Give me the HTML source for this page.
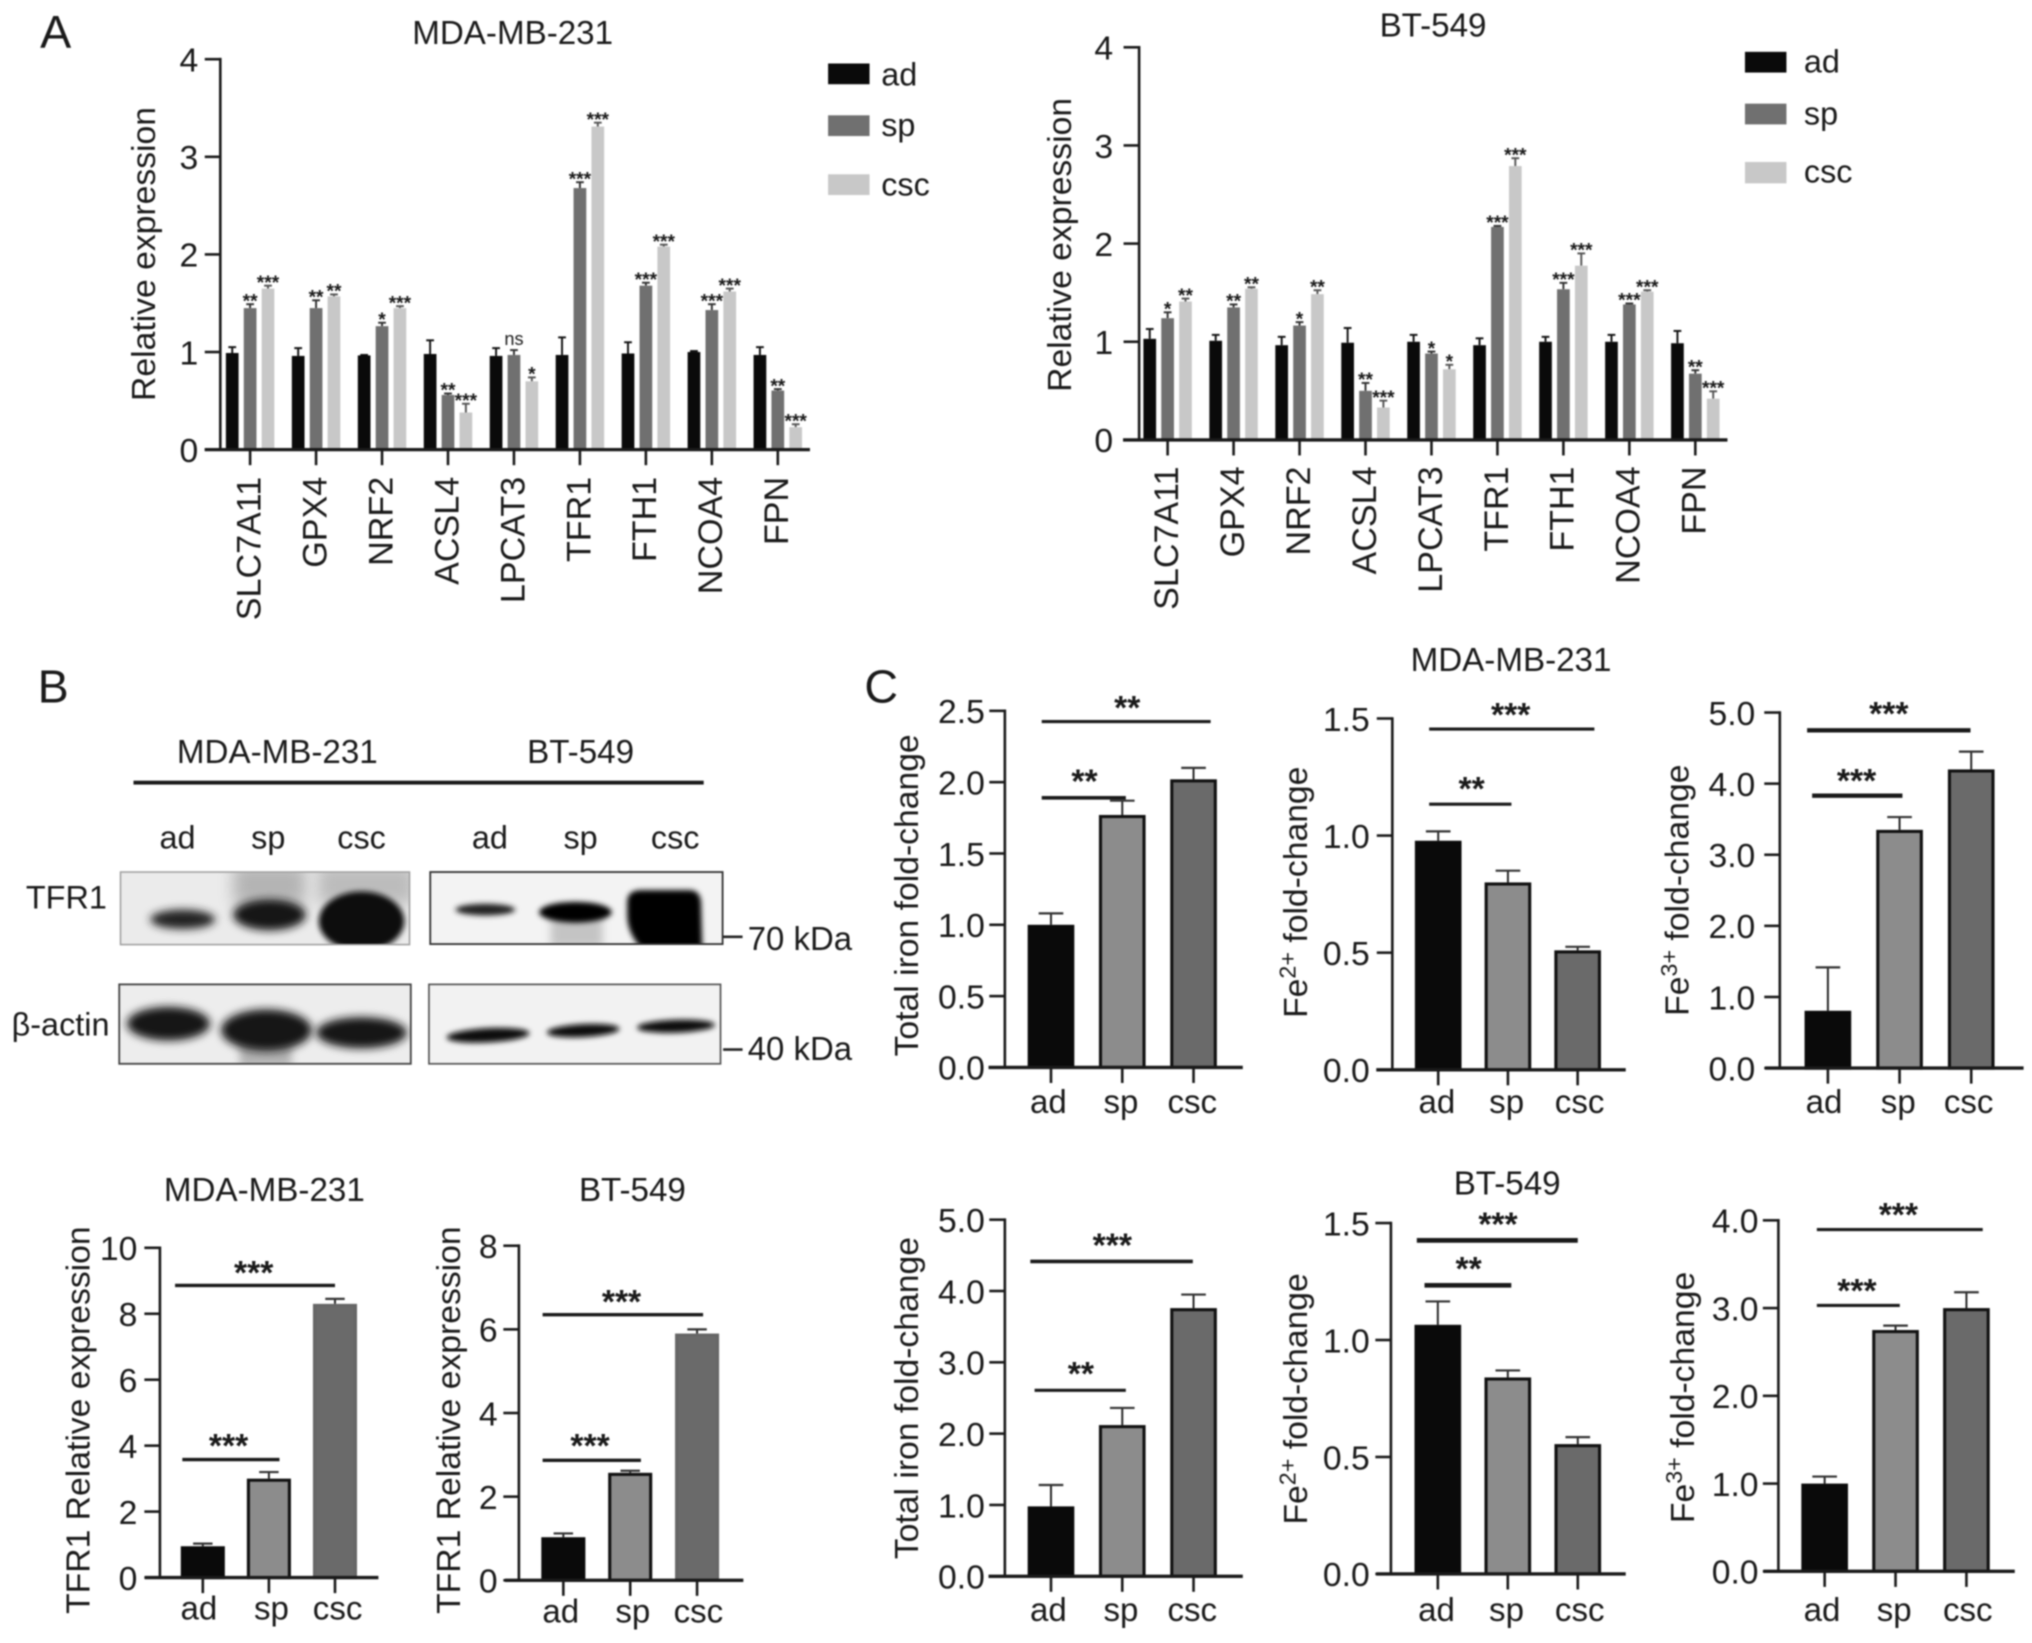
<!DOCTYPE html>
<html lang="en">
<head>
<meta charset="utf-8">
<title>Iron metabolism figure</title>
<style>
html,body{margin:0;padding:0;background:#fff;width:2032px;height:1643px;overflow:hidden}
svg{display:block;filter:blur(0.8px)}
text{font-family:"Liberation Sans",sans-serif;fill:#1a1a1a}
</style>
</head>
<body>
<svg id="figure" xmlns="http://www.w3.org/2000/svg" width="2032" height="1643" viewBox="0 0 1568 1268" preserveAspectRatio="none">
<defs>
<filter id="b1" x="-30%" y="-60%" width="160%" height="220%"><feGaussianBlur stdDeviation="2"/></filter>
<filter id="b2" x="-30%" y="-60%" width="160%" height="220%"><feGaussianBlur stdDeviation="3.2"/></filter>
<filter id="b3" x="-40%" y="-80%" width="180%" height="260%"><feGaussianBlur stdDeviation="6"/></filter>
<clipPath id="c1"><rect x="93" y="673" width="223" height="56"/></clipPath>
<clipPath id="c2"><rect x="332" y="673" width="225.6" height="55.6"/></clipPath>
<clipPath id="c3"><rect x="92" y="759.7" width="225" height="61.3"/></clipPath>
<clipPath id="c4"><rect x="331" y="759.7" width="225" height="61.3"/></clipPath>
</defs>
<rect x="0" y="0" width="1568" height="1268" fill="#fff"/>

<text x="31" y="37" font-size="36">A</text>
<text x="29" y="542" font-size="36">B</text>
<text x="667" y="542" font-size="36">C</text>

<text x="395.6" y="34" font-size="25.6" text-anchor="middle">MDA-MB-231</text>
<text x="1105.8" y="28" font-size="25.6" text-anchor="middle">BT-549</text>
<text x="1166" y="518" font-size="25.6" text-anchor="middle">MDA-MB-231</text>
<text x="1163" y="922" font-size="25.6" text-anchor="middle">BT-549</text>
<text x="204" y="927" font-size="25.6" text-anchor="middle">MDA-MB-231</text>
<text x="488" y="927" font-size="25.6" text-anchor="middle">BT-549</text>

<g>
  <rect x="639" y="49" width="32" height="16" fill="#0a0a0a"/>
  <text x="680" y="66" font-size="25">ad</text>
  <rect x="639" y="89" width="32" height="16" fill="#707070"/>
  <text x="680" y="105" font-size="25">sp</text>
  <rect x="639" y="134.5" width="32" height="16" fill="#c8c8c8"/>
  <text x="680" y="151" font-size="25">csc</text>
</g>
<g>
  <rect x="1346.5" y="40" width="32" height="16" fill="#0a0a0a"/>
  <text x="1392" y="56" font-size="25">ad</text>
  <rect x="1346.5" y="80" width="32" height="16" fill="#707070"/>
  <text x="1392" y="96" font-size="25">sp</text>
  <rect x="1346.5" y="125" width="32" height="16.5" fill="#c8c8c8"/>
  <text x="1392" y="141" font-size="25">csc</text>
</g>

<g>
  <text x="214" y="589" font-size="25.6" text-anchor="middle">MDA-MB-231</text>
  <text x="448" y="589" font-size="25.6" text-anchor="middle">BT-549</text>
  <rect x="103" y="602.5" width="440" height="3" fill="#1a1a1a"/>
  <text x="137" y="655" font-size="25" text-anchor="middle">ad</text>
  <text x="207" y="655" font-size="25" text-anchor="middle">sp</text>
  <text x="279" y="655" font-size="25" text-anchor="middle">csc</text>
  <text x="378" y="655" font-size="25" text-anchor="middle">ad</text>
  <text x="448" y="655" font-size="25" text-anchor="middle">sp</text>
  <text x="521" y="655" font-size="25" text-anchor="middle">csc</text>
  <text x="20" y="701" font-size="25">TFR1</text>
  <text x="9" y="799" font-size="25">β-actin</text>

  <g>
    <g clip-path="url(#c1)">
      <rect x="93" y="673" width="223" height="56" fill="#ebebeb"/>
      <rect x="180" y="668" width="56" height="30" fill="#b4b4b4" filter="url(#b3)"/>
      <rect x="245" y="668" width="75" height="30" fill="#bcbcbc" filter="url(#b3)"/>
      <ellipse cx="141" cy="709.5" rx="25" ry="7.5" fill="#222" filter="url(#b2)"/>
      <ellipse cx="208" cy="706" rx="28" ry="12" fill="#161616" filter="url(#b2)"/>
      <ellipse cx="279" cy="711" rx="33" ry="23" fill="#101010" filter="url(#b1)"/>
    </g>
    <rect x="93" y="673" width="223" height="56" fill="none" stroke="#a0a0a0" stroke-width="1.2"/>
  </g>
  <g>
    <g clip-path="url(#c2)">
      <rect x="332" y="673" width="225.6" height="55.6" fill="#f3f3f3"/>
      <ellipse cx="374.5" cy="702" rx="23" ry="4.5" fill="#222" filter="url(#b1)"/>
      <rect x="425" y="705" width="40" height="26" fill="#c4c4c4" filter="url(#b2)"/>
      <ellipse cx="444" cy="704" rx="28" ry="8" fill="#050505" filter="url(#b1)"/>
      <path d="M484 696 Q484 687 495 687 L532 687 Q541 687 541 698 L542 735 L498 735 Q484 722 484 706 Z" fill="#040404" filter="url(#b1)"/>
    </g>
    <rect x="332" y="673" width="225.6" height="55.6" fill="none" stroke="#333" stroke-width="1.4"/>
  </g>
  <g>
    <g clip-path="url(#c3)">
      <rect x="92" y="759.7" width="225" height="61.3" fill="#ededed"/>
      <rect x="185" y="805" width="40" height="18" fill="#b0b0b0" filter="url(#b2)"/>
      <ellipse cx="130" cy="790" rx="32" ry="13" fill="#121212" filter="url(#b2)"/>
      <ellipse cx="205.6" cy="795" rx="35" ry="16" fill="#121212" filter="url(#b2)"/>
      <ellipse cx="279" cy="797" rx="35" ry="12" fill="#161616" filter="url(#b2)"/>
    </g>
    <rect x="92" y="759.7" width="225" height="61.3" fill="none" stroke="#444" stroke-width="1.4"/>
  </g>
  <g>
    <g clip-path="url(#c4)">
      <rect x="331" y="759.7" width="225" height="61.3" fill="#f2f2f2"/>
      <ellipse cx="376.6" cy="799" rx="32" ry="5.5" fill="#080808" filter="url(#b1)" transform="rotate(-3 376.6 799)"/>
      <ellipse cx="450" cy="795.4" rx="28" ry="5" fill="#080808" filter="url(#b1)" transform="rotate(-3 450 795.4)"/>
      <ellipse cx="521.6" cy="792" rx="30" ry="5" fill="#080808" filter="url(#b1)" transform="rotate(-2 521.6 792)"/>
    </g>
    <rect x="331" y="759.7" width="225" height="61.3" fill="none" stroke="#555" stroke-width="1.3"/>
  </g>
  <rect x="558" y="722" width="15" height="2" fill="#222"/>
  <text x="577" y="733" font-size="25.4">70 kDa</text>
  <rect x="558" y="809" width="15" height="2" fill="#222"/>
  <text x="577" y="818" font-size="25.4">40 kDa</text>
</g>
</svg>

<script>
// ---------- Panel A data ----------
const geneCategories = ['SLC7A11','GPX4','NRF2','ACSL4','LPCAT3','TFR1','FTH1','NCOA4','FPN'];
const expressionTicks = ['0','1','2','3','4'];

const mdaAdValues  = [0.99,0.96,0.965,0.98,0.96,0.97,0.985,1.0,0.97];
const mdaAdErrors  = [0.06,0.08,0.005,0.14,0.08,0.18,0.115,0.01,0.08];
const mdaSpValues  = [1.45,1.45,1.265,0.56,0.97,2.68,1.68,1.43,0.605];
const mdaSpErrors  = [0.04,0.08,0.035,0.015,0.05,0.06,0.03,0.06,0.015];
const mdaCscValues = [1.65,1.57,1.45,0.38,0.70,3.31,2.08,1.62,0.23];
const mdaCscErrors = [0.03,0.02,0.02,0.09,0.04,0.04,0.02,0.03,0.03];
const mdaSpSig  = ['**','**','*','**','ns','***','***','***','**'];
const mdaCscSig = ['***','**','***','***','*','***','***','***','***'];

const btAdValues  = [1.03,1.01,0.965,0.99,1.0,0.965,1.0,1.0,0.985];
const btAdErrors  = [0.10,0.06,0.085,0.15,0.07,0.07,0.05,0.07,0.125];
const btSpValues  = [1.24,1.35,1.165,0.50,0.88,2.17,1.535,1.38,0.675];
const btSpErrors  = [0.06,0.03,0.035,0.08,0.02,0.01,0.065,0.01,0.035];
const btCscValues = [1.41,1.54,1.485,0.33,0.72,2.79,1.775,1.51,0.42];
const btCscErrors = [0.03,0.015,0.04,0.07,0.045,0.08,0.125,0.015,0.075];
const btSpSig  = ['*','**','*','**','*','***','***','***','**'];
const btCscSig = ['**','**','**','***','*','***','***','***','***'];

// ---------- Panel B / C data ----------
const cellCategories = ['ad','sp','csc'];

const tfrMdaTicks = ['0','2','4','6','8','10'];
const tfrMdaValues = [0.95,3.0,8.3];
const tfrMdaErrors = [0.08,0.2,0.15];
const tfrMdaLineLevels = [8.86,3.58];
const tfrMdaStarLevels = [9.39,4.15];
const tfrMdaStars = ['***','***'];

const tfrBtTicks = ['0','2','4','6','8'];
const tfrBtValues = [1.03,2.57,5.9];
const tfrBtErrors = [0.09,0.05,0.1];
const tfrBtLineLevels = [6.35,2.87];
const tfrBtStarLevels = [6.78,3.33];
const tfrBtStars = ['***','***'];

const ironMdaTicks = ['0.0','0.5','1.0','1.5','2.0','2.5'];
const ironMdaValues = [1.0,1.77,2.02];
const ironMdaErrors = [0.08,0.10,0.08];
const ironMdaLineLevels = [2.425,1.89];
const ironMdaStarLevels = [2.555,2.04];
const ironMdaStars = ['**','**'];

const fe2MdaTicks = ['0.0','0.5','1.0','1.5'];
const fe2MdaValues = [0.978,0.80,0.51];
const fe2MdaErrors = [0.04,0.05,0.015];
const fe2MdaLineLevels = [1.455,1.134];
const fe2MdaStarLevels = [1.537,1.221];
const fe2MdaStars = ['***','**'];

const fe3MdaTicks = ['0.0','1.0','2.0','3.0','4.0','5.0'];
const fe3MdaValues = [0.806,3.35,4.2];
const fe3MdaErrors = [0.61,0.18,0.25];
const fe3MdaLineLevels = [4.75,3.83];
const fe3MdaStarLevels = [5.05,4.11];
const fe3MdaStars = ['***','***'];

const ironBtTicks = ['0.0','1.0','2.0','3.0','4.0','5.0'];
const ironBtValues = [0.98,2.12,3.76];
const ironBtErrors = [0.30,0.24,0.19];
const ironBtLineLevels = [4.415,2.607];
const ironBtStarLevels = [4.71,2.907];
const ironBtStars = ['***','**'];

const fe2BtTicks = ['0.0','0.5','1.0','1.5'];
const fe2BtValues = [1.065,0.84,0.555];
const fe2BtErrors = [0.10,0.03,0.03];
const fe2BtLineLevels = [1.426,1.234];
const fe2BtStarLevels = [1.515,1.326];
const fe2BtStars = ['***','**'];

const fe3BtTicks = ['0.0','1.0','2.0','3.0','4.0'];
const fe3BtValues = [1.0,2.75,3.0];
const fe3BtErrors = [0.08,0.05,0.18];
const fe3BtLineLevels = [3.895,3.03];
const fe3BtStarLevels = [4.12,3.255];
const fe3BtStars = ['***','***'];

// ---------- drawing helpers ----------
const NS = 'http://www.w3.org/2000/svg';
const root = document.getElementById('figure');

function make(tag, attrs, parent, content) {
  const node = document.createElementNS(NS, tag);
  for (const k in attrs) node.setAttribute(k, attrs[k]);
  if (content !== undefined) node.textContent = content;
  parent.appendChild(node);
  return node;
}

function drawAxes(g, c, yOf, xOf, categories, ticks) {
  const yAxis = make('line', {x1:c.axisX, x2:c.axisX, y1:yOf(parseFloat(ticks[ticks.length-1]))-1, y2:c.y0, stroke:'#1a1a1a','stroke-width':2}, g);
  
  
  const xAxis = make('line', {x1:c.baseStart, x2:c.baseEnd, y1:c.y0, y2:c.y0, stroke:'#1a1a1a','stroke-width':2.6}, g);
  
  

  ticks.forEach(function (t) {
    const y = yOf(parseFloat(t));
    const mark = make('line', {x1:c.axisX-12, x2:c.axisX, y1:y, y2:y, stroke:'#1a1a1a','stroke-width':2}, g);
    
    
    const label = make('text', {x:c.tickRight, y:y+9.5, 'font-size':26, 'text-anchor':'end'}, g, t);
    
    
  });

  categories.forEach(function (name, i) {
    const x = xOf(i);
    const mark = make('line', {x1:x, x2:x, y1:c.y0, y2:c.y0+12, stroke:'#1a1a1a','stroke-width':2}, g);
    
    
    const label = c.rotated
      ? make('text', {x:x+8, y:c.labelY, 'font-size':26.3, 'text-anchor':'end', transform:'rotate(-90 '+(x+8)+' '+c.labelY+')'}, g, name)
      : make('text', {x:x+c.labelShift[i], y:c.labelY, 'font-size':25.5, 'text-anchor':'middle'}, g, name);
    
    
  });

  const tx = c.yTitleX, ty = c.yTitleY;
  const title = make('text', {x:tx, y:ty, 'font-size':c.yTitleSize || 26, 'text-anchor':'middle', transform:'rotate(-90 '+tx+' '+ty+')'}, g);
  
  
  if (c.yTitleSup) {
    make('tspan', {}, title, c.yTitle);
    make('tspan', {dy:-9, 'font-size':18}, title, c.yTitleSup);
    make('tspan', {dy:9}, title, c.yTitleEnd);
  } else {
    title.textContent = c.yTitle;
  }
}

function drawGrouped(c, categories, ticks, seriesList) {
  const g = make('g', {}, root);
  
  
  const yMax = parseFloat(ticks[ticks.length-1]);
  const yOf = function (v) { return c.y0 - (v / yMax) * (c.y0 - c.yTop); };
  const xOf = function (i) { return c.x0 + i * c.step; };

  seriesList.forEach(function (s, si) {
    categories.forEach(function (cat, i) {
      const cx = xOf(i) + (si - 1) * 13.8;
      const top = yOf(s.values[i]);
      const errTop = yOf(s.values[i] + s.errors[i]);
      const stem = make('line', {x1:cx, x2:cx, y1:top, y2:errTop, stroke:s.errColor, 'stroke-width':1.5}, g);
      
      
      const cap = make('line', {x1:cx-3, x2:cx+3, y1:errTop, y2:errTop, stroke:s.errColor, 'stroke-width':1.5}, g);
      
      
      const bar = make('rect', {x:cx-4.9, y:top, width:9.8, height:c.y0-top, fill:s.color}, g);
      
      
      if (s.sig) {
        const isNs = s.sig[i] === 'ns';
        const sig = make('text', {x:cx, y:errTop + (isNs ? -4 : 2.5), 'font-size':isNs ? 14 : 14.8, 'font-weight':isNs ? 'normal' : 'bold', 'text-anchor':'middle'}, g, s.sig[i]);
        
        
      }
    });
  });
  drawAxes(g, c, yOf, xOf, categories, ticks);
}

function drawSimple(c, categories, ticks, values, errors, lineLevels, starLevels, stars) {
  const g = make('g', {}, root);
  
  
  const yMax = parseFloat(ticks[ticks.length-1]);
  const yOf = function (v) { return c.y0 - (v / yMax) * (c.y0 - c.yTop); };
  const xOf = function (i) { return c.x0 + i * c.step; };
  const fills = ['#0a0a0a', '#8c8c8c', '#6a6a6a'];
  const strokes = ['#0a0a0a', '#111', c.cscStroke];

  categories.forEach(function (cat, i) {
    const cx = xOf(i);
    const top = yOf(values[i]);
    const errTop = yOf(values[i] + errors[i]);
    const stem = make('line', {x1:cx, x2:cx, y1:top, y2:errTop, stroke:'#222', 'stroke-width':1.5}, g);
    
    
    const cap = make('line', {x1:cx-c.capHalf, x2:cx+c.capHalf, y1:errTop, y2:errTop, stroke:'#333', 'stroke-width':1.7}, g);
    
    
    const bar = make('rect', {x:cx-c.barHalf+1.2, y:top+1.2, width:2*c.barHalf-2.4, height:c.y0-top-1.2, fill:fills[i], stroke:strokes[i], 'stroke-width':2.4}, g);
    
    
  });

  lineLevels.forEach(function (level, k) {
    const y = yOf(level);
    const span = c.lineSpans[k];
    const line = make('line', {x1:xOf(span[0]), x2:xOf(span[1]), y1:y, y2:y, stroke:'#1a1a1a', 'stroke-width':c.lineWidths[k]}, g);
    
    
    const star = make('text', {x:xOf(c.starPos[k]), y:yOf(starLevels[k]) + 12.5, 'font-size':26, 'font-weight':'bold', 'text-anchor':'middle'}, g, stars[k]);
    
    
  });
  drawAxes(g, c, yOf, xOf, categories, ticks);
}

// ---------- Panel A ----------
drawGrouped(
  {name:'chart-a-mda', axisX:170, y0:347, yTop:45.7, x0:193, step:50.9, baseStart:158, baseEnd:625, tickRight:153, rotated:true, labelY:368, yTitle:'Relative expression', yTitleX:119.5, yTitleY:196},
  geneCategories, expressionTicks,
  [
    {key:'ad', color:'#0a0a0a', errColor:'#111', values:mdaAdValues, errors:mdaAdErrors},
    {key:'sp', color:'#707070', errColor:'#333', values:mdaSpValues, errors:mdaSpErrors, sig:mdaSpSig},
    {key:'csc', color:'#c8c8c8', errColor:'#555', values:mdaCscValues, errors:mdaCscErrors, sig:mdaCscSig}
  ]
);
drawGrouped(
  {name:'chart-a-bt', axisX:879, y0:339.5, yTop:36.5, x0:901, step:50.9, baseStart:866.6, baseEnd:1333, tickRight:859, rotated:true, labelY:360, yTitle:'Relative expression', yTitleX:826.5, yTitleY:189},
  geneCategories, expressionTicks,
  [
    {key:'ad', color:'#0a0a0a', errColor:'#111', values:btAdValues, errors:btAdErrors},
    {key:'sp', color:'#707070', errColor:'#333', values:btSpValues, errors:btSpErrors, sig:btSpSig},
    {key:'csc', color:'#c8c8c8', errColor:'#555', values:btCscValues, errors:btCscErrors, sig:btCscSig}
  ]
);

// ---------- Panel B bars ----------
drawSimple(
  {name:'chart-b-mda', axisX:123.4, y0:1217.5, yTop:963, x0:156.5, step:51, baseStart:111.7, baseEnd:292, tickRight:106, labelY:1250, labelShift:[-3,2,2], yTitle:'TFR1 Relative expression', yTitleX:69, yTitleY:1096, barHalf:17, capHalf:7.5, cscStroke:'#666',
   lineSpans:[[-0.42,2.0],[-0.31,1.16]], lineWidths:[2.6,2.6], starPos:[0.77,0.39]},
  cellCategories, tfrMdaTicks, tfrMdaValues, tfrMdaErrors, tfrMdaLineLevels, tfrMdaStarLevels, tfrMdaStars
);
drawSimple(
  {name:'chart-b-bt', axisX:400.4, y0:1219.6, yTop:961.4, x0:434.7, step:51.6, baseStart:389.6, baseEnd:573.6, tickRight:384, labelY:1252, labelShift:[-2,2,1], yTitle:'TFR1 Relative expression', yTitleX:355, yTitleY:1096, barHalf:17, capHalf:7.5, cscStroke:'#666',
   lineSpans:[[-0.31,2.09],[-0.31,1.16]], lineWidths:[2.6,2.6], starPos:[0.87,0.4]},
  cellCategories, tfrBtTicks, tfrBtValues, tfrBtErrors, tfrBtLineLevels, tfrBtStarLevels, tfrBtStars
);

// ---------- Panel C ----------
drawSimple(
  {name:'chart-c-total-iron-mda', axisX:775.4, y0:823.8, yTop:548.6, x0:811, step:55, baseStart:762.8, baseEnd:959, tickRight:760, labelY:859, labelShift:[-2,-1,-1], yTitle:'Total iron fold-change', yTitleSize:26, yTitleX:708.5, yTitleY:691, barHalf:18, capHalf:9.5, cscStroke:'#111',
   lineSpans:[[-0.13,2.24],[-0.13,1.05]], lineWidths:[2.4,2.8], starPos:[1.07,0.47]},
  cellCategories, ironMdaTicks, ironMdaValues, ironMdaErrors, ironMdaLineLevels, ironMdaStarLevels, ironMdaStars
);
drawSimple(
  {name:'chart-c-fe2-mda', axisX:1074.4, y0:825.6, yTop:554.5, x0:1109.8, step:53.8, baseStart:1062, baseEnd:1254.5, tickRight:1057, labelY:859, labelShift:[-1,-1,1.5], yTitle:'Fe', yTitleSup:'2+', yTitleEnd:' fold-change', yTitleX:1008.6, yTitleY:688.6, barHalf:18, capHalf:9.5, cscStroke:'#111',
   lineSpans:[[-0.13,2.24],[-0.13,1.05]], lineWidths:[2.4,2.4], starPos:[1.04,0.48]},
  cellCategories, fe2MdaTicks, fe2MdaValues, fe2MdaErrors, fe2MdaLineLevels, fe2MdaStarLevels, fe2MdaStars
);
drawSimple(
  {name:'chart-c-fe3-mda', axisX:1373.4, y0:824.3, yTop:549.9, x0:1410.5, step:55.3, baseStart:1362, baseEnd:1561.5, tickRight:1354.5, labelY:859, labelShift:[-3,-1,-2],yTitle:'Fe', yTitleSup:'3+', yTitleEnd:' fold-change', yTitleX:1303, yTitleY:687, barHalf:18, capHalf:9.5, cscStroke:'#111',
   lineSpans:[[-0.29,1.99],[-0.22,1.04]], lineWidths:[3.4,3.4], starPos:[0.85,0.4]},
  cellCategories, fe3MdaTicks, fe3MdaValues, fe3MdaErrors, fe3MdaLineLevels, fe3MdaStarLevels, fe3MdaStars
);
drawSimple(
  {name:'chart-c-total-iron-bt', axisX:775.4, y0:1216.5, yTop:941.3, x0:811, step:55, baseStart:762.8, baseEnd:959, tickRight:760, labelY:1251, labelShift:[-2,-1,-1], yTitle:'Total iron fold-change', yTitleSize:26, yTitleX:708.5, yTitleY:1079, barHalf:18, capHalf:9.5, cscStroke:'#111',
   lineSpans:[[-0.29,1.99],[-0.23,1.05]], lineWidths:[2.8,2.4], starPos:[0.86,0.42]},
  cellCategories, ironBtTicks, ironBtValues, ironBtErrors, ironBtLineLevels, ironBtStarLevels, ironBtStars
);
drawSimple(
  {name:'chart-c-fe2-bt', axisX:1073.3, y0:1214.7, yTop:943.9, x0:1109.5, step:54, baseStart:1062, baseEnd:1254.5, tickRight:1057, labelY:1251, labelShift:[-1,-1,1.5], yTitle:'Fe', yTitleSup:'2+', yTitleEnd:' fold-change', yTitleX:1008.6, yTitleY:1079.6, barHalf:18, capHalf:9.5, cscStroke:'#111',
   lineSpans:[[-0.3,2.0],[-0.19,1.05]], lineWidths:[3.6,3.6], starPos:[0.86,0.44]},
  cellCategories, fe2BtTicks, fe2BtValues, fe2BtErrors, fe2BtLineLevels, fe2BtStarLevels, fe2BtStars
);
drawSimple(
  {name:'chart-c-fe3-bt', axisX:1372.3, y0:1212.7, yTop:941.8, x0:1408, step:54.7, baseStart:1360.8, baseEnd:1554.7, tickRight:1357, labelY:1251, labelShift:[-2,-1,1], yTitle:'Fe', yTitleSup:'3+', yTitleEnd:' fold-change', yTitleX:1307, yTitleY:1078.5, barHalf:18, capHalf:9.5, cscStroke:'#111',
   lineSpans:[[-0.11,2.23],[-0.11,1.06]], lineWidths:[2.4,2.4], starPos:[1.04,0.455]},
  cellCategories, fe3BtTicks, fe3BtValues, fe3BtErrors, fe3BtLineLevels, fe3BtStarLevels, fe3BtStars
);
</script>
</body>
</html>
